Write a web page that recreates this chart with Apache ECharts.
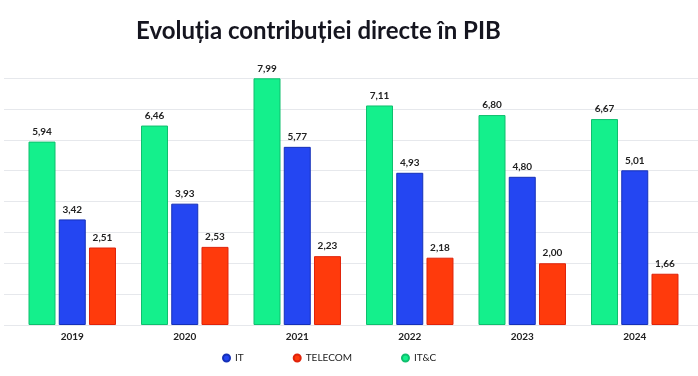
<!DOCTYPE html>
<html><head><meta charset="utf-8">
<script src="https://cdn.jsdelivr.net/npm/echarts@6/dist/echarts.min.js"></script>
<style>html,body{margin:0;padding:0;background:#fff}#c{width:698px;height:376px}</style>
</head><body><div id="c"></div>
<script>
const years = ['2019','2020','2021','2022','2023','2024'];
const itc = [5.94, 6.46, 7.99, 7.11, 6.80, 6.67];
const it = [3.42, 3.93, 5.77, 4.93, 4.80, 5.01];
const telecom = [2.51, 2.53, 2.23, 2.18, 2.00, 1.66];
const yTicks = {min: 0, max: 8, interval: 1};

const fmt = p => p.value.toFixed(2).replace('.', ',');
const lbl = {show: true, position: 'top', distance: 5, fontFamily: 'Lato', fontSize: 10, fontWeight: 'bold', color: '#222', formatter: fmt};

const chart = echarts.init(document.getElementById('c'));
chart.setOption({
  animation: false,
  title: {text: 'Evoluția contribuției directe în PIB', left: 131, top: 14,
    textStyle: {fontFamily: 'Lato', fontWeight: 'bold', fontSize: 24, color: '#15151f'}},
  legend: {data: ['IT','TELECOM','IT&C'], bottom: 8, left: 217, itemGap: 49, icon: 'circle', itemWidth: 7, itemHeight: 7,
    textStyle: {fontFamily: 'Lato', fontSize: 10, color: '#222'}},
  grid: [
    {left: 4, right: 0, top: 78, bottom: 51},
    {left: 16, right: 7, top: 78, bottom: 51}
  ],
  xAxis: [
    {gridIndex: 0, type: 'value', show: false, min: 0, max: 1},
    {gridIndex: 1, type: 'category', data: years, axisLine: {show: false}, axisTick: {show: false},
      axisLabel: {fontFamily: 'Lato', fontSize: 10, fontWeight: 'bold', color: '#222', margin: 7}}
  ],
  yAxis: [
    {gridIndex: 0, type: 'value', min: yTicks.min, max: yTicks.max, interval: yTicks.interval, axisLabel: {show: false},
      axisLine: {show: false}, axisTick: {show: false}, splitLine: {lineStyle: {color: '#e6e8ec', width: 1}}},
    {gridIndex: 1, type: 'value', min: yTicks.min, max: yTicks.max, interval: yTicks.interval, show: false, splitLine: {show: false}}
  ],
  series: [
    {name: 'IT&C', type: 'bar', xAxisIndex: 1, yAxisIndex: 1, data: itc, barWidth: 27, barGap: '12%',
      itemStyle: {color: '#14f08c', borderColor: '#0fbf6e', borderWidth: 1}, label: lbl},
    {name: 'IT', type: 'bar', xAxisIndex: 1, yAxisIndex: 1, data: it, barWidth: 27, barGap: '12%',
      itemStyle: {color: '#2446f2', borderColor: '#1530b8', borderWidth: 1}, label: lbl},
    {name: 'TELECOM', type: 'bar', xAxisIndex: 1, yAxisIndex: 1, data: telecom, barWidth: 27, barGap: '12%',
      itemStyle: {color: '#ff3a0c', borderColor: '#e0230a', borderWidth: 1}, label: lbl}
  ]
});
</script></body></html>
